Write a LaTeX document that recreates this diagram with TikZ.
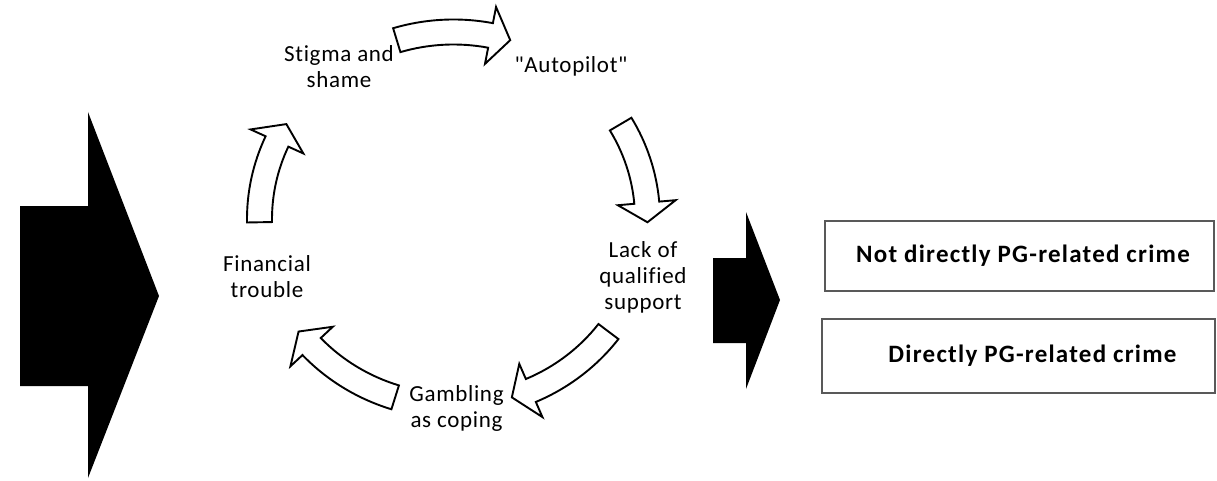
\documentclass[tikz,border=0pt]{standalone}
\usepackage{fontspec}
\setmainfont{Carlito}
\newfontfamily\cyclefont[LetterSpace=3, Ligatures={NoCommon}]{Carlito}
\newfontfamily\boxfont[LetterSpace=5, Ligatures={NoCommon}]{Carlito}

\begin{document}
\begin{tikzpicture}[x=1pt, y=-1pt,
  cyclelabel/.style={font=\cyclefont\fontsize{23}{26}\selectfont, align=center, inner sep=0pt},
  hollowarrow/.style={draw=black, fill=white, line width=1.9pt, line join=miter},
  crimebox/.style={draw=black!65, line width=1.2pt, minimum width=389pt, minimum height=70pt, inner sep=0pt},
  crimetext/.style={font=\boxfont\bfseries\fontsize{25}{28}\selectfont, inner sep=0pt}]

\useasboundingbox (0,0) rectangle (1217,481);

% ── Schwarze Blockpfeile ─────────────────────────────────────────────
\fill (20,206) -- (88,206) -- (88,112) -- (159,296) -- (88,478) -- (88,386) -- (20,386) -- cycle;
\fill (713,258) -- (746,258) -- (746,212) -- (780,300) -- (746,389) -- (746,343) -- (713,343) -- cycle;

% ── Kreislauf: Ellipse um (453.5,219), Radien 194 / 187 ──────────────
\def\cx{453.5}
\def\cy{219}
\def\ra{194}
\def\rb{187}
\pgfmathsetmacro{\rao}{\ra+12.5}  \pgfmathsetmacro{\rbo}{\rb+12.5}
\pgfmathsetmacro{\rai}{\ra-12.5}  \pgfmathsetmacro{\rbi}{\rb-12.5}
\pgfmathsetmacro{\rah}{\ra+29}    \pgfmathsetmacro{\rbh}{\rb+29}
\pgfmathsetmacro{\ral}{\ra-29}    \pgfmathsetmacro{\rbl}{\rb-29}

% Pfeile: Schaftende / Spitze (Winkel)
\foreach \ta/\tb in {-107/-73, -30.5/1, 37/72.5, 107.5/143, 179/210.5}
{
  \pgfmathsetmacro{\tm}{\tb-6}
  \draw[hollowarrow, shift={(\cx,\cy)}]
    (\ta:{\rao} and {\rbo}) arc[start angle=\ta, end angle=\tm, x radius=\rao, y radius=\rbo]
    -- (\tm:{\rah} and {\rbh}) -- (\tb:{\ra} and {\rb}) -- (\tm:{\ral} and {\rbl})
    -- (\tm:{\rai} and {\rbi}) arc[start angle=\tm, end angle=\ta, x radius=\rai, y radius=\rbi]
    -- cycle;
}

% ── Beschriftungen ───────────────────────────────────────────────────
\node[cyclelabel] (stigma)    at (339,67)    {Stigma and\\shame};
\node[cyclelabel] (autopilot) at (571,66)    {"Autopilot"};
\node[cyclelabel] (lack)      at (643,277)   {Lack of\\qualified\\support};
\node[cyclelabel] (gambling)  at (456.5,408) {Gambling\\as coping};
\node[cyclelabel] (financial) at (267,277)   {Financial\\trouble};

% ── Kästen rechts ────────────────────────────────────────────────────
\node[crimebox] (indirect) at (1019.5,256) {};
\node[crimebox, minimum width=393pt, minimum height=74pt] (direct) at (1018.5,356) {};
\node[crimetext] (indirecttext) at ([xshift=3.5pt]indirect.center) {Not directly PG-related crime};
\node[crimetext] (directtext)   at ([xshift=14pt]direct.center)    {Directly PG-related crime};

\end{tikzpicture}
\end{document}
